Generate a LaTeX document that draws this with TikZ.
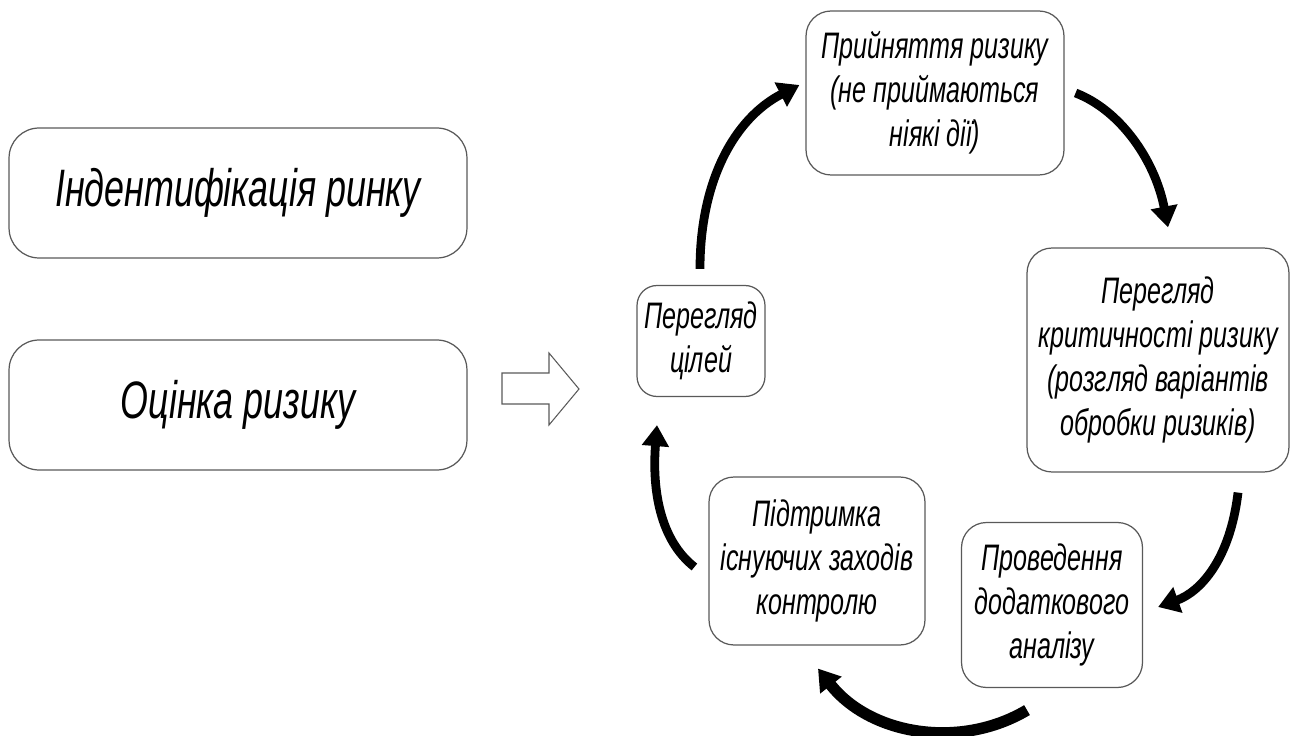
\documentclass[tikz,border=0pt]{standalone}
\usepackage{fontspec}
\newfontfamily\gostfont{Liberation Sans}[FakeStretch=0.68]
\usetikzlibrary{arrows.meta,calc,positioning}

\begin{document}
\begin{tikzpicture}[x=0.02cm, y=-0.02cm,
    >={Triangle[length=0.42cm, width=0.52cm]},
    box/.style={draw=black!65, line width=0.7pt, rounded corners=0.5cm, align=center,
        inner sep=2pt, font=\gostfont\itshape\fontsize{21}{25}\selectfont},
    bigbox/.style={box, rounded corners=0.6cm, font=\gostfont\itshape\fontsize{30}{36}\selectfont},
    cyclearrow/.style={->, line width=5pt}]
    \useasboundingbox (0, 0) rectangle (1295, 736);

    % Left column
    \node[bigbox, minimum width=9.16cm, minimum height=2.6cm] (ident) at (238, 193) {Індентифікація ринку};
    \node[bigbox, minimum width=9.16cm, minimum height=2.6cm] (ocinka) at (238, 405) {Оцінка ризику};

    % Hollow arrow
    \draw[draw=black!65, line width=0.6pt] (502, 373) -- (549, 373) -- (549, 353) -- (579, 389)
        -- (549, 425) -- (549, 404) -- (502, 404) -- cycle;

    % Cycle boxes
    \node[box, minimum width=5.16cm, minimum height=3.28cm] (pryin) at (935, 93) {Прийняття ризику\\(не приймаються\\ніякі дії)};
    \node[box, minimum width=5.24cm, minimum height=4.48cm] (perehlyad) at (1158, 360) {Перегляд\\критичності ризику\\(розгляд варіантів\\обробки ризиків)};
    \node[box, minimum width=3.62cm, minimum height=3.3cm] (proved) at (1052, 605) {Проведення\\додаткового\\аналізу};
    \node[box, minimum width=4.32cm, minimum height=3.36cm] (pidtr) at (817, 561) {Підтримка\\існуючих заходів\\контролю};
    \node[box, rounded corners=0.4cm, minimum width=2.56cm, minimum height=2.22cm] (tsiley) at (701, 341) {Перегляд\\цілей};

    % Cycle arrows
    \draw[cyclearrow] ($(tsiley.north)+(-1, -16)$) .. controls (700, 180) and (735, 118) .. ($(pryin.west)+(-6, -8)$);
    \draw[cyclearrow] ($(pryin.east)+(11, 0)$) .. controls (1120, 110) and (1155, 160) .. ($(perehlyad.north)+(10, -20)$);
    \draw[cyclearrow] ($(perehlyad.south)+(80, 20)$) .. controls (1230, 560) and (1200, 592) .. ($(proved.east)+(15, 2)$);
    \draw[cyclearrow, line width=6.5pt] ($(proved.south)+(-25, 22)$) .. controls (960, 750) and (870, 735) .. ($(pidtr.south)+(1, 23)$);
    \draw[cyclearrow] ($(pidtr.west)+(-14, 6)$) .. controls (660, 540) and (652, 490) .. ($(tsiley.south)+(-44, 28)$);
\end{tikzpicture}
\end{document}
